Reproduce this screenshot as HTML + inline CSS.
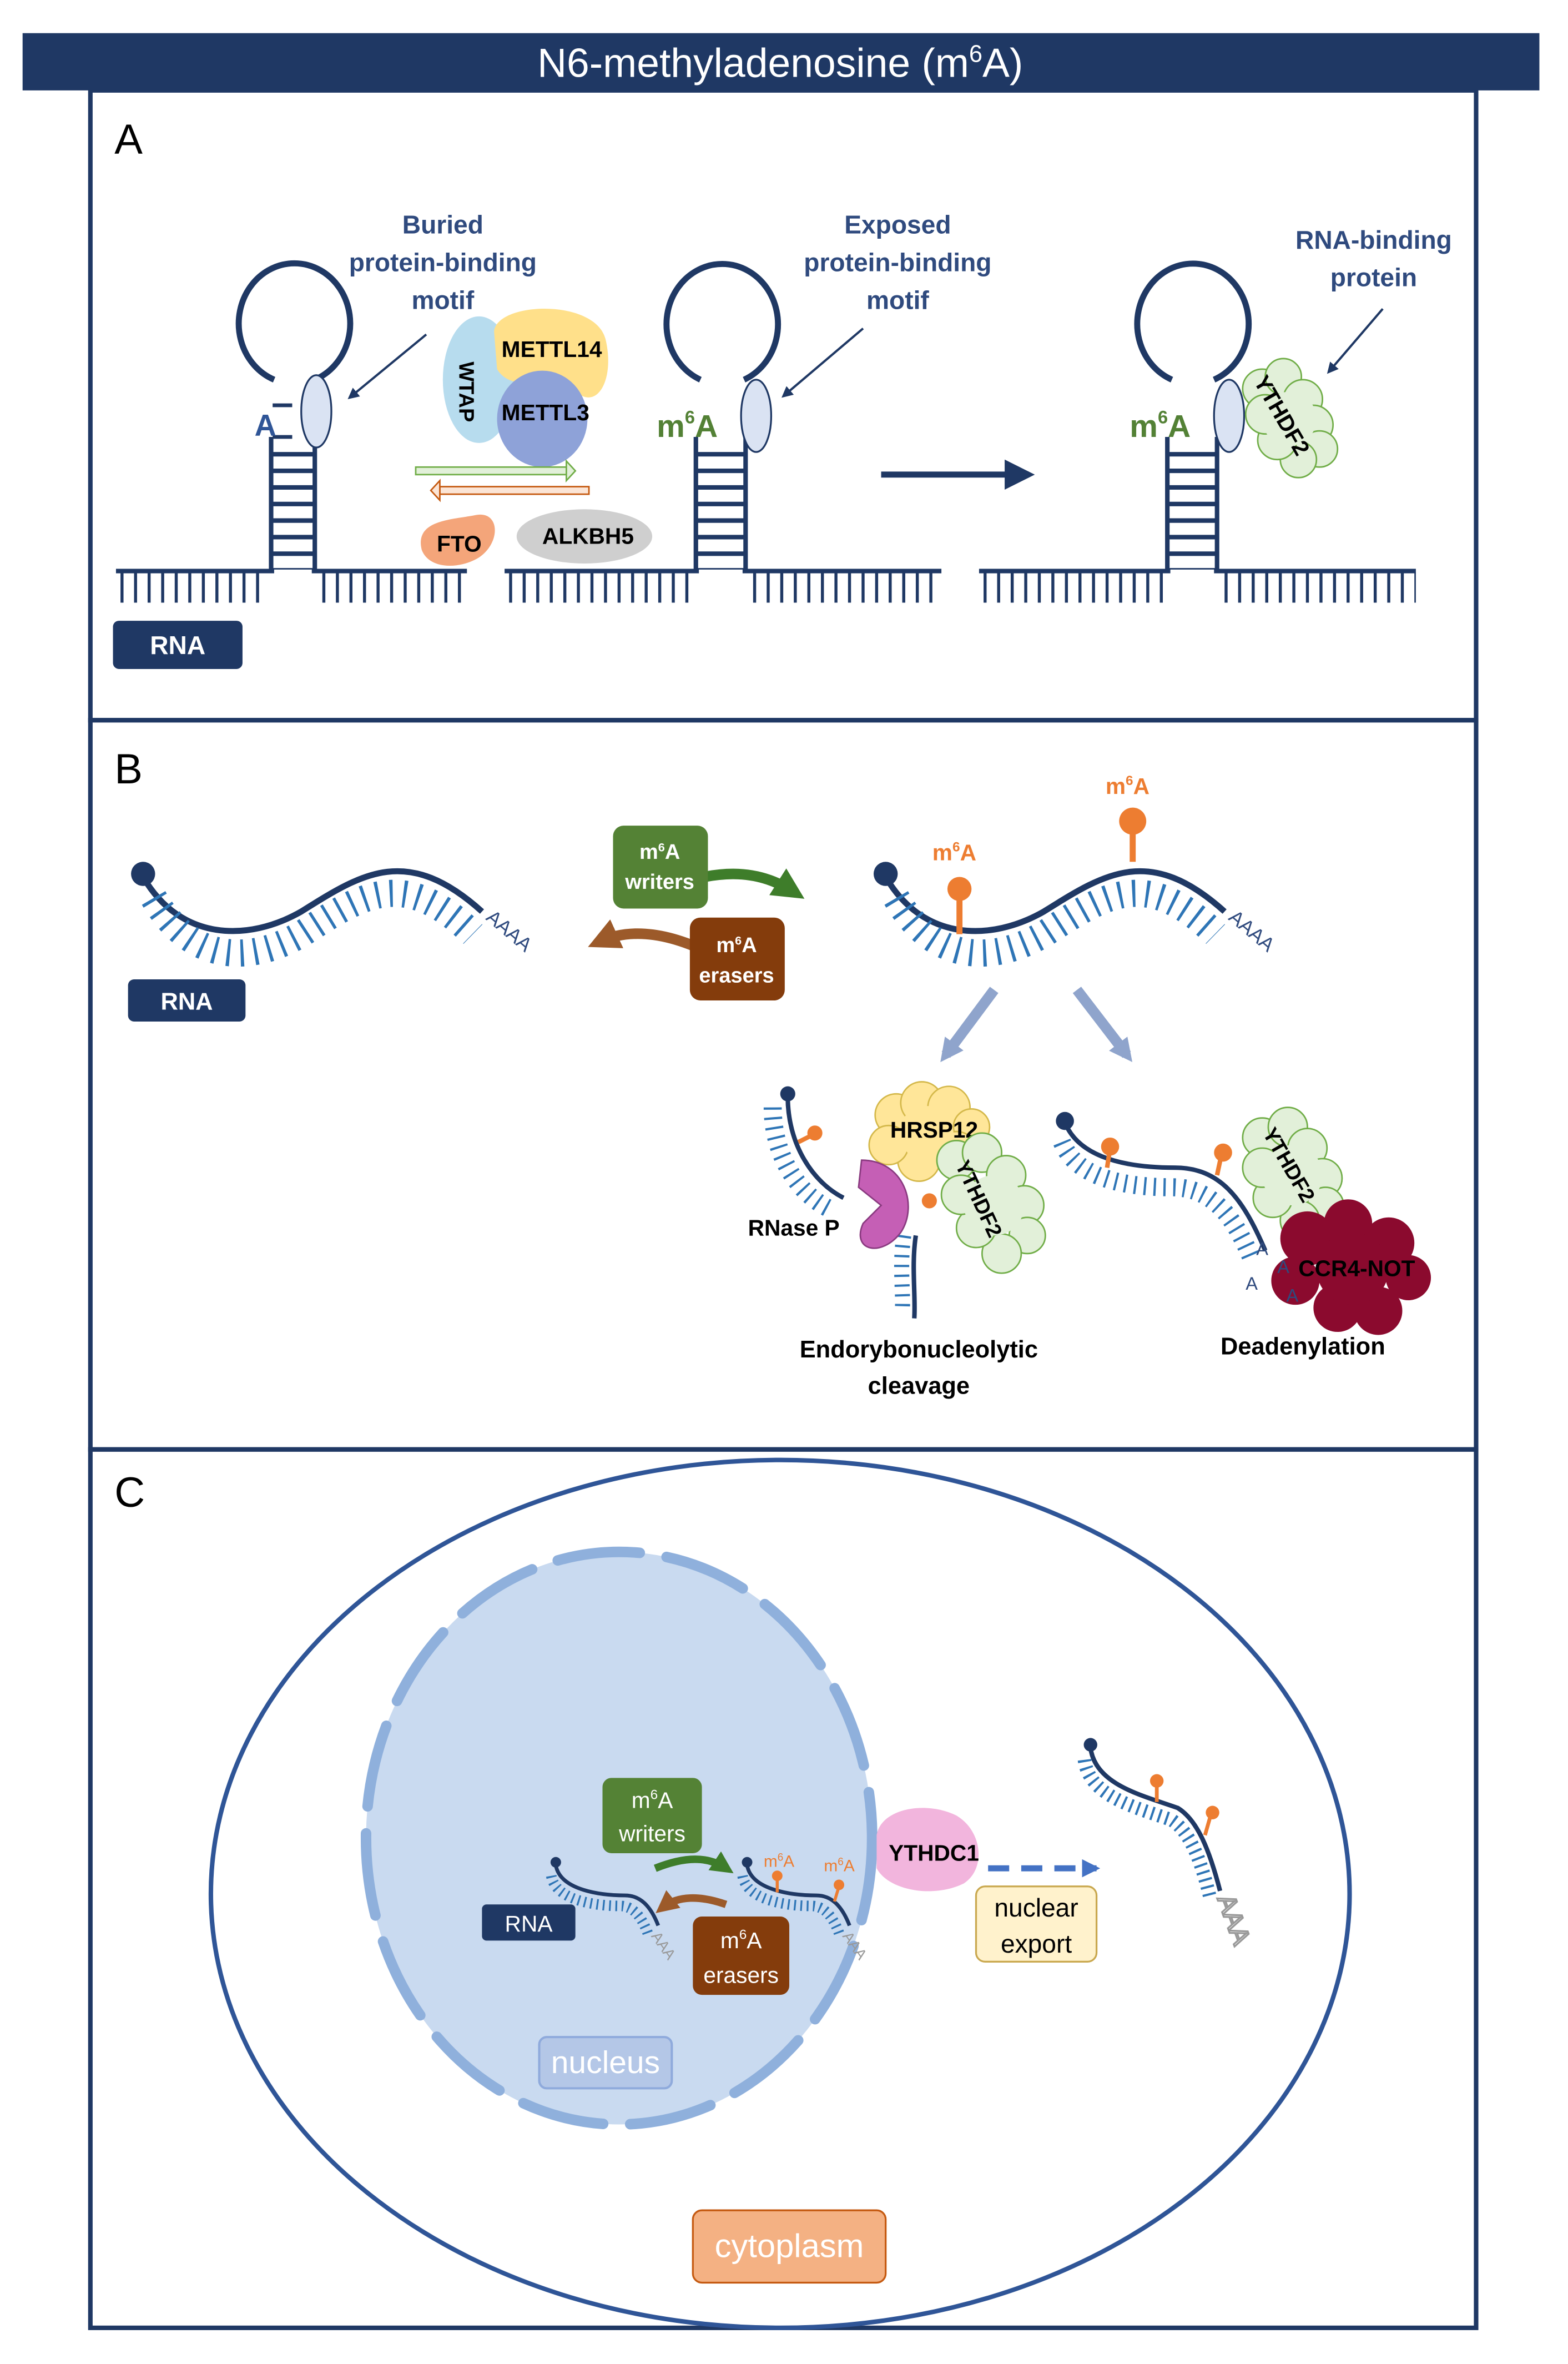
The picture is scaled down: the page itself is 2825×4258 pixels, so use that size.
<!DOCTYPE html>
<html><head><meta charset="utf-8"><style>
html,body{margin:0;padding:0;background:#fff;}
svg{display:block;}
text{font-family:"Liberation Sans",sans-serif;}
</style></head><body>
<svg width="2825" height="4258" viewBox="0 0 1041 1569" preserveAspectRatio="none" xmlns="http://www.w3.org/2000/svg">
<defs>
<marker id="ah" viewBox="0 0 10 10" refX="8" refY="5" markerWidth="5" markerHeight="5" orient="auto"><path d="M0,0L10,5L0,10z" fill="#1f3864"/></marker>
<marker id="ahb" viewBox="0 0 10 10" refX="8" refY="5" markerWidth="3" markerHeight="3" orient="auto"><path d="M0,0L10,5L0,10z" fill="#4472c4"/></marker>
<marker id="ahg" viewBox="0 0 10 10" refX="6" refY="5" markerWidth="3" markerHeight="3" orient="auto"><path d="M0,0L10,5L0,10z" fill="#3e7d2a"/></marker>
<marker id="ahr" viewBox="0 0 10 10" refX="6" refY="5" markerWidth="3" markerHeight="3" orient="auto"><path d="M0,0L10,5L0,10z" fill="#9c5a2a"/></marker>
<marker id="ahs" viewBox="0 0 10 10" refX="6" refY="5" markerWidth="2.2" markerHeight="2.2" orient="auto"><path d="M0,0L10,5L0,10z" fill="#8fa4cc"/></marker>
</defs>
<rect width="1041" height="1569" fill="#fff"/>
<!-- header -->
<rect x="15" y="22" width="1007" height="38" fill="#1f3864"/>
<text x="518" y="51" font-size="27" fill="#fff" text-anchor="middle">N6-methyladenosine (m<tspan font-size="16" dy="-10">6</tspan><tspan dy="10">A)</tspan></text>
<!-- panels -->
<g fill="none" stroke="#1f3864" stroke-width="3">
<rect x="60" y="60" width="920" height="418"/>
<rect x="60" y="478" width="920" height="484"/>
<rect x="60" y="962" width="920" height="583"/>
</g>
<text x="76" y="102" font-size="28">A</text>
<text x="76" y="520" font-size="28">B</text>
<text x="76" y="1000" font-size="28">C</text>

<!-- ===== Panel A ===== -->
<g stroke="#1f3864" fill="none">
 <!-- loop1 -->
 <path d="M182,252 A37,40 0 1 1 209,252" stroke-width="4"/>
 <line x1="180" y1="290" x2="180" y2="380" stroke-width="3"/>
 <line x1="209" y1="290" x2="209" y2="380" stroke-width="3"/>
 <line x1="194.5" y1="300" x2="194.5" y2="378" stroke-width="29" stroke-dasharray="3 8"/>
 <line x1="77" y1="379" x2="182" y2="379" stroke-width="3"/>
 <line x1="207" y1="379" x2="310" y2="379" stroke-width="3"/>
 <line x1="80" y1="390" x2="178" y2="390" stroke-width="20" stroke-dasharray="2 7"/>
 <line x1="214" y1="390" x2="310" y2="390" stroke-width="20" stroke-dasharray="2 7"/>
 <line x1="181" y1="269" x2="194" y2="269" stroke-width="2.5"/>
 <line x1="181" y1="290" x2="194" y2="290" stroke-width="2.5"/>
 <!-- loop2 -->
 <path d="M465,252 A37,40 0 1 1 494,252" stroke-width="4"/>
 <line x1="462" y1="290" x2="462" y2="380" stroke-width="3"/>
 <line x1="495" y1="290" x2="495" y2="380" stroke-width="3"/>
 <line x1="478.5" y1="300" x2="478.5" y2="378" stroke-width="33" stroke-dasharray="3 8"/>
 <line x1="335" y1="379" x2="464" y2="379" stroke-width="3"/>
 <line x1="493" y1="379" x2="625" y2="379" stroke-width="3"/>
 <line x1="338" y1="390" x2="460" y2="390" stroke-width="20" stroke-dasharray="2 7"/>
 <line x1="500" y1="390" x2="625" y2="390" stroke-width="20" stroke-dasharray="2 7"/>
 <!-- loop3 -->
 <path d="M778,252 A37,40 0 1 1 806,252" stroke-width="4"/>
 <line x1="775" y1="290" x2="775" y2="380" stroke-width="3"/>
 <line x1="808" y1="290" x2="808" y2="380" stroke-width="3"/>
 <line x1="791.5" y1="300" x2="791.5" y2="378" stroke-width="33" stroke-dasharray="3 8"/>
 <line x1="650" y1="379" x2="777" y2="379" stroke-width="3"/>
 <line x1="806" y1="379" x2="940" y2="379" stroke-width="3"/>
 <line x1="653" y1="390" x2="773" y2="390" stroke-width="20" stroke-dasharray="2 7"/>
 <line x1="813" y1="390" x2="940" y2="390" stroke-width="20" stroke-dasharray="2 7"/>
 <!-- pointer arrows -->
 <line x1="283" y1="222" x2="232" y2="264" stroke-width="1.5" marker-end="url(#ah)"/>
 <line x1="573" y1="218" x2="520" y2="263" stroke-width="1.5" marker-end="url(#ah)"/>
 <line x1="918" y1="205" x2="882" y2="247" stroke-width="1.5" marker-end="url(#ah)"/>
 <line x1="585" y1="315" x2="683" y2="315" stroke-width="4" marker-end="url(#ah)"/>
</g>
<g fill="#dae3f3" stroke="#1f3864" stroke-width="1.2">
 <ellipse cx="210" cy="273" rx="10" ry="24"/>
 <ellipse cx="502" cy="276" rx="10" ry="24"/>
 <ellipse cx="816" cy="276" rx="10" ry="24"/>
</g>
<text x="169" y="289" font-size="20" font-weight="bold" fill="#2f5597">A</text>
<text x="436" y="290" font-size="21" font-weight="bold" fill="#538135">m<tspan font-size="12" dy="-9">6</tspan><tspan dy="9">A</tspan></text>
<text x="750" y="290" font-size="21" font-weight="bold" fill="#538135">m<tspan font-size="12" dy="-9">6</tspan><tspan dy="9">A</tspan></text>
<g font-size="17" font-weight="bold" fill="#2f4a7e" text-anchor="middle">
 <text x="294" y="155">Buried</text><text x="294" y="180">protein-binding</text><text x="294" y="205">motif</text>
 <text x="596" y="155">Exposed</text><text x="596" y="180">protein-binding</text><text x="596" y="205">motif</text>
 <text x="912" y="165">RNA-binding</text><text x="912" y="190">protein</text>
</g>
<!-- writer complex -->
<ellipse cx="318" cy="252" rx="24" ry="42" fill="#b7dcee"/>
<path d="M328,220 C330,200 395,198 402,225 C408,250 398,270 385,262 C370,250 340,262 330,245 Z" fill="#ffe08a"/>
<ellipse cx="360" cy="278" rx="30" ry="32" fill="#8ea2d8"/>
<text x="333" y="237" font-size="15" font-weight="bold">METTL14</text>
<text x="333" y="279" font-size="15" font-weight="bold">METTL3</text>
<text x="305" y="240" font-size="14" font-weight="bold" transform="rotate(90 305 240)">WTAP</text>
<!-- enzyme arrows -->
<rect x="276" y="310" width="100" height="5" fill="#e2f0d9" stroke="#70ad47" stroke-width="1"/>
<path d="M376,306 L382,312.5 L376,319 Z" fill="#e2f0d9" stroke="#70ad47" stroke-width="1"/>
<rect x="292" y="323" width="99" height="5" fill="#fbe5d6" stroke="#c55a11" stroke-width="1"/>
<path d="M292,319 L286,325.5 L292,332 Z" fill="#fbe5d6" stroke="#c55a11" stroke-width="1"/>
<path d="M280,365 C275,345 300,345 315,342 C332,338 333,360 318,370 C305,378 285,378 280,365 Z" fill="#f4a57a"/>
<text x="290" y="366" font-size="15" font-weight="bold">FTO</text>
<ellipse cx="388" cy="356" rx="45" ry="18" fill="#cfcfcf"/>
<text x="360" y="361" font-size="15" font-weight="bold">ALKBH5</text>
<!-- YTHDF2 cloud A -->
<g fill="#e2f0d9" stroke="#70ad47" stroke-width="1">
 <circle cx="838" cy="258" r="13"/><circle cx="852" cy="250" r="12"/><circle cx="865" cy="265" r="13"/>
 <circle cx="872" cy="282" r="13"/><circle cx="876" cy="298" r="12"/><circle cx="862" cy="305" r="12"/>
 <circle cx="848" cy="292" r="13"/><circle cx="840" cy="275" r="13"/>
 <circle cx="856" cy="278" r="18" stroke="none"/>
</g>
<text x="832" y="253" font-size="15" font-weight="bold" transform="rotate(60 832 253)">YTHDF2</text>
<rect x="75" y="412" width="86" height="32" rx="4" fill="#1f3864"/>
<text x="118" y="434" font-size="17" font-weight="bold" fill="#fff" text-anchor="middle">RNA</text>

<!-- ===== Panel B ===== -->
<g fill="none" stroke="#1f3864">
 <path d="M95,582 C120,625 165,625 200,605 C240,580 270,560 320,605" stroke-width="4"/>
 <path d="M102,596 C127,639 165,640 200,620 C240,594 268,575 314,620" stroke="#2e75b6" stroke-width="18" stroke-dasharray="2 7"/>
 <path d="M588,582 C613,625 658,625 693,605 C733,580 763,560 813,605" stroke-width="4"/>
 <path d="M595,596 C620,639 658,640 693,620 C733,594 761,575 807,620" stroke="#2e75b6" stroke-width="18" stroke-dasharray="2 7"/>
</g>
<circle cx="95" cy="580" r="8" fill="#1f3864"/>
<circle cx="588" cy="580" r="8" fill="#1f3864"/>
<text x="322" y="610" font-size="13" fill="#2f4a7e" transform="rotate(40 322 610)">AAAA</text>
<text x="815" y="610" font-size="13" fill="#2f4a7e" transform="rotate(40 815 610)">AAAA</text>
<rect x="85" y="650" width="78" height="28" rx="4" fill="#1f3864"/>
<text x="124" y="670" font-size="16" font-weight="bold" fill="#fff" text-anchor="middle">RNA</text>
<!-- m6A pins -->
<g stroke="#ed7d31" stroke-width="4"><line x1="637" y1="590" x2="637" y2="620"/><line x1="752" y1="545" x2="752" y2="572"/></g>
<circle cx="637" cy="590" r="8" fill="#ed7d31"/><circle cx="752" cy="545" r="9" fill="#ed7d31"/>
<text x="619" y="571" font-size="15" font-weight="bold" fill="#ed7d31">m<tspan font-size="9" dy="-6">6</tspan><tspan dy="6">A</tspan></text>
<text x="734" y="527" font-size="15" font-weight="bold" fill="#ed7d31">m<tspan font-size="9" dy="-6">6</tspan><tspan dy="6">A</tspan></text>
<!-- writers / erasers -->
<path d="M440,590 C480,575 505,578 527,592" fill="none" stroke="#3e7d2a" stroke-width="7" marker-end="url(#ahg)"/>
<rect x="407" y="548" width="63" height="55" rx="7" fill="#548235"/>
<text x="438" y="570" font-size="14" font-weight="bold" fill="#fff" text-anchor="middle">m<tspan font-size="8" dy="-5">6</tspan><tspan dy="5">A</tspan></text>
<text x="438" y="590" font-size="14" font-weight="bold" fill="#fff" text-anchor="middle">writers</text>
<path d="M470,632 C445,620 420,615 398,625" fill="none" stroke="#9c5a2a" stroke-width="7" marker-end="url(#ahr)"/>
<rect x="458" y="609" width="63" height="55" rx="7" fill="#843c0c"/>
<text x="489" y="632" font-size="14" font-weight="bold" fill="#fff" text-anchor="middle">m<tspan font-size="8" dy="-5">6</tspan><tspan dy="5">A</tspan></text>
<text x="489" y="652" font-size="14" font-weight="bold" fill="#fff" text-anchor="middle">erasers</text>
<!-- split arrows -->
<line x1="660" y1="657" x2="628" y2="700" stroke="#8fa4cc" stroke-width="7" marker-end="url(#ahs)"/>
<line x1="715" y1="657" x2="748" y2="700" stroke="#8fa4cc" stroke-width="7" marker-end="url(#ahs)"/>
<!-- cleavage group -->
<path d="M523,728 C523,760 540,785 560,795" fill="none" stroke="#1f3864" stroke-width="3"/>
<path d="M513,735 C513,767 530,792 550,802" fill="none" stroke="#2e75b6" stroke-width="12" stroke-dasharray="1.5 5"/>
<circle cx="523" cy="726" r="5" fill="#1f3864"/>
<line x1="530" y1="758" x2="540" y2="753" stroke="#ed7d31" stroke-width="3"/><circle cx="541" cy="752" r="5" fill="#ed7d31"/>
<path d="M608,820 C605,840 608,860 607,875" fill="none" stroke="#1f3864" stroke-width="3"/>
<path d="M600,820 C597,840 600,860 599,870" fill="none" stroke="#2e75b6" stroke-width="10" stroke-dasharray="1.5 5"/>
<g fill="#ffe699" stroke="#d4b84a" stroke-width="1">
 <circle cx="595" cy="740" r="14"/><circle cx="612" cy="732" r="14"/><circle cx="630" cy="735" r="14"/>
 <circle cx="645" cy="748" r="12"/><circle cx="635" cy="765" r="14"/><circle cx="610" cy="770" r="14"/>
 <circle cx="590" cy="760" r="13"/><circle cx="615" cy="752" r="18" stroke="none"/>
</g>
<text x="591" y="755" font-size="15" font-weight="bold">HRSP12</text>
<g fill="#e2f0d9" stroke="#70ad47" stroke-width="1">
 <circle cx="635" cy="770" r="13"/><circle cx="652" cy="765" r="13"/><circle cx="668" cy="780" r="13"/>
 <circle cx="680" cy="800" r="13"/><circle cx="682" cy="820" r="12"/><circle cx="665" cy="832" r="13"/>
 <circle cx="648" cy="815" r="13"/><circle cx="638" cy="793" r="13"/><circle cx="660" cy="800" r="20" stroke="none"/>
</g>
<text x="634" y="773" font-size="14" font-weight="bold" transform="rotate(65 634 773)">YTHDF2</text>
<path d="M572,770 C600,770 610,800 598,818 C585,835 565,830 573,812 L585,800 L570,788 Z" fill="#c55fb5" stroke="#8a3a80" stroke-width="1"/>
<circle cx="617" cy="797" r="5" fill="#ed7d31"/>
<text x="527" y="820" font-size="15" font-weight="bold" text-anchor="middle">RNase P</text>
<text x="610" y="901" font-size="16" font-weight="bold" text-anchor="middle">Endorybonucleolytic</text>
<text x="610" y="925" font-size="16" font-weight="bold" text-anchor="middle">cleavage</text>
<!-- deadenylation group -->
<path d="M707,745 C715,765 740,775 780,775 C810,775 825,795 840,830" fill="none" stroke="#1f3864" stroke-width="3"/>
<path d="M705,758 C713,778 738,788 778,788 C805,788 820,808 832,838" fill="none" stroke="#2e75b6" stroke-width="12" stroke-dasharray="1.5 5"/>
<circle cx="707" cy="744" r="6" fill="#1f3864"/>
<line x1="735" y1="775" x2="737" y2="762" stroke="#ed7d31" stroke-width="3"/><circle cx="737" cy="761" r="6" fill="#ed7d31"/>
<line x1="808" y1="780" x2="811" y2="766" stroke="#ed7d31" stroke-width="3"/><circle cx="812" cy="765" r="6" fill="#ed7d31"/>
<g fill="#e2f0d9" stroke="#70ad47" stroke-width="1">
 <circle cx="838" cy="755" r="13"/><circle cx="855" cy="748" r="13"/><circle cx="868" cy="762" r="13"/>
 <circle cx="878" cy="782" r="13"/><circle cx="880" cy="800" r="12"/><circle cx="863" cy="810" r="13"/>
 <circle cx="845" cy="795" r="13"/><circle cx="838" cy="775" r="13"/><circle cx="858" cy="780" r="20" stroke="none"/>
</g>
<text x="838" y="752" font-size="14" font-weight="bold" transform="rotate(60 838 752)">YTHDF2</text>
<g fill="#8b0a2e">
 <circle cx="868" cy="822" r="18"/><circle cx="895" cy="812" r="16"/><circle cx="922" cy="825" r="17"/>
 <circle cx="935" cy="848" r="15"/><circle cx="915" cy="870" r="16"/><circle cx="888" cy="868" r="16"/>
 <circle cx="860" cy="850" r="16"/><circle cx="898" cy="842" r="24"/>
</g>
<text x="862" y="847" font-size="15" font-weight="bold">CCR4-NOT</text>
<g font-size="12" fill="#2f4a7e"><text x="834" y="833">A</text><text x="848" y="845">A</text><text x="827" y="856">A</text><text x="854" y="864">A</text></g>
<text x="865" y="899" font-size="16" font-weight="bold" text-anchor="middle">Deadenylation</text>

<!-- ===== Panel C ===== -->
<ellipse cx="518" cy="1257" rx="378" ry="288" fill="#fff" stroke="#2f5597" stroke-width="3"/>
<ellipse cx="411" cy="1220" rx="168" ry="190" fill="#c9daf0"/>
<ellipse cx="411" cy="1220" rx="168" ry="190" fill="none" stroke="#8fb0dc" stroke-width="7" stroke-dasharray="55 18" stroke-linecap="round"/>
<!-- writers/erasers -->
<rect x="400" y="1180" width="66" height="50" rx="6" fill="#548235"/>
<text x="433" y="1200" font-size="15" fill="#fff" text-anchor="middle">m<tspan font-size="9" dy="-6">6</tspan><tspan dy="6">A</tspan></text>
<text x="433" y="1222" font-size="15" fill="#fff" text-anchor="middle">writers</text>
<path d="M435,1240 C455,1232 470,1232 482,1240" fill="none" stroke="#3e7d2a" stroke-width="5" marker-end="url(#ahg)"/>
<path d="M482,1264 C465,1258 450,1258 440,1266" fill="none" stroke="#9c5a2a" stroke-width="5" marker-end="url(#ahr)"/>
<rect x="460" y="1272" width="64" height="52" rx="6" fill="#843c0c"/>
<text x="492" y="1293" font-size="15" fill="#fff" text-anchor="middle">m<tspan font-size="9" dy="-6">6</tspan><tspan dy="6">A</tspan></text>
<text x="492" y="1316" font-size="15" fill="#fff" text-anchor="middle">erasers</text>
<rect x="320" y="1264" width="62" height="24" rx="3" fill="#1f3864"/>
<text x="351" y="1282" font-size="15" fill="#fff" text-anchor="middle">RNA</text>
<!-- nuclear RNAs -->
<path d="M369,1238 C372,1255 400,1258 415,1258 C425,1258 432,1265 437,1278" fill="none" stroke="#1f3864" stroke-width="2.5"/>
<path d="M366,1245 C369,1262 397,1265 412,1265 C420,1265 426,1272 430,1283" fill="none" stroke="#2e75b6" stroke-width="7" stroke-dasharray="1.2 3"/>
<circle cx="369" cy="1236" r="3.5" fill="#1f3864"/>
<text x="432" y="1285" font-size="10" fill="#999" transform="rotate(55 432 1285)">AAA</text>
<path d="M496,1238 C499,1255 527,1258 542,1258 C552,1258 559,1265 564,1278" fill="none" stroke="#1f3864" stroke-width="2.5"/>
<path d="M493,1245 C496,1262 524,1265 539,1265 C547,1265 553,1272 557,1283" fill="none" stroke="#2e75b6" stroke-width="7" stroke-dasharray="1.2 3"/>
<circle cx="496" cy="1236" r="3.5" fill="#1f3864"/>
<text x="559" y="1285" font-size="10" fill="#999" transform="rotate(55 559 1285)">AAA</text>
<line x1="516" y1="1256" x2="516" y2="1246" stroke="#ed7d31" stroke-width="2"/><circle cx="516" cy="1245" r="3.5" fill="#ed7d31"/>
<line x1="554" y1="1262" x2="557" y2="1252" stroke="#ed7d31" stroke-width="2"/><circle cx="557" cy="1251" r="3.5" fill="#ed7d31"/>
<text x="507" y="1239" font-size="11" fill="#ed7d31">m<tspan font-size="7" dy="-4">6</tspan><tspan dy="4">A</tspan></text>
<text x="547" y="1242" font-size="11" fill="#ed7d31">m<tspan font-size="7" dy="-4">6</tspan><tspan dy="4">A</tspan></text>
<!-- YTHDC1 -->
<path d="M582,1218 C585,1200 615,1195 635,1205 C652,1215 655,1240 640,1250 C620,1260 590,1255 582,1240 Z" fill="#f2b5dd"/>
<text x="620" y="1235" font-size="15" font-weight="bold" text-anchor="middle">YTHDC1</text>
<line x1="656" y1="1240" x2="728" y2="1240" stroke="#4472c4" stroke-width="4" stroke-dasharray="14 8" marker-end="url(#ahb)"/>
<rect x="648" y="1252" width="80" height="50" rx="6" fill="#fff2cc" stroke="#c9a84f" stroke-width="1.2"/>
<text x="688" y="1272" font-size="17" text-anchor="middle">nuclear</text>
<text x="688" y="1296" font-size="17" text-anchor="middle">export</text>
<!-- cytoplasmic RNA -->
<path d="M724,1160 C727,1185 760,1192 782,1200 C795,1208 803,1228 810,1255" fill="none" stroke="#1f3864" stroke-width="3"/>
<path d="M720,1168 C723,1193 756,1200 778,1208 C790,1216 797,1234 803,1258" fill="none" stroke="#2e75b6" stroke-width="9" stroke-dasharray="1.5 3.5"/>
<circle cx="724" cy="1158" r="4.5" fill="#1f3864"/>
<line x1="768" y1="1196" x2="768" y2="1183" stroke="#ed7d31" stroke-width="2.5"/><circle cx="768" cy="1182" r="4.5" fill="#ed7d31"/>
<line x1="800" y1="1218" x2="804" y2="1204" stroke="#ed7d31" stroke-width="2.5"/><circle cx="805" cy="1203" r="4.5" fill="#ed7d31"/>
<text x="808" y="1260" font-size="17" fill="none" stroke="#999" stroke-width="1.2" transform="rotate(70 808 1260)">AAA</text>
<!-- labels -->
<rect x="358" y="1352" width="88" height="34" rx="5" fill="#b4c7e7" stroke="#8faadc" stroke-width="1.5"/>
<text x="402" y="1376" font-size="21" fill="#fff" text-anchor="middle">nucleus</text>
<rect x="460" y="1467" width="128" height="48" rx="6" fill="#f4b183" stroke="#c55a11" stroke-width="1.2"/>
<text x="524" y="1498" font-size="22" fill="#fff" text-anchor="middle">cytoplasm</text>
</svg>
</body></html>
